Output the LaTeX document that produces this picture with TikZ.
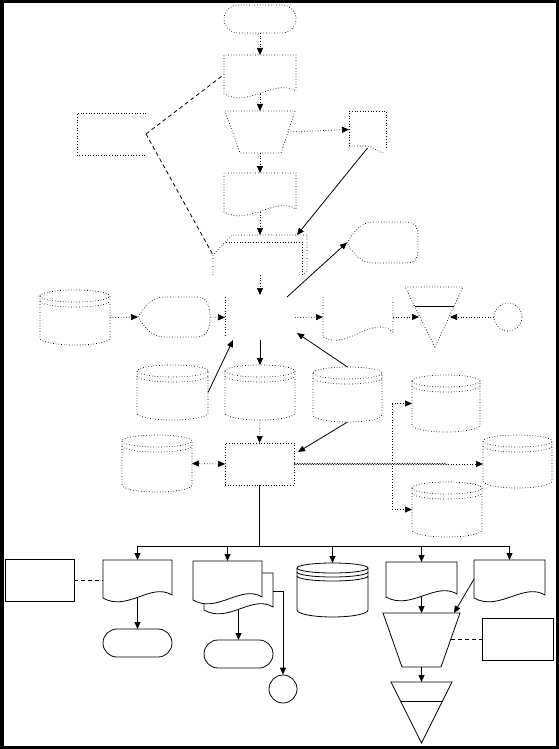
\documentclass[tikz,border=0pt]{standalone}
\usetikzlibrary{arrows.meta,shapes.misc,calc,decorations.pathmorphing}
\newcommand\docp[5]{\draw[#1] (#2,#5) -- (#2,#3) -- (#4,#3) -- (#4,#5-3) .. controls ({#4-0.3*(#4-#2)},#5-16) and ({#2+0.35*(#4-#2)},#5+14) .. (#2,#5) -- cycle;}
\newcommand\diskd[5]{%
 \pgfmathsetmacro\rxx{(#4-#2)/2}%
 \draw[#1,fill=white] (#2,#3+6) -- (#2,#5-7) arc[start angle=180,end angle=0,x radius=\rxx,y radius=7] -- (#4,#3+6) arc[start angle=0,end angle=-180,x radius=\rxx,y radius=6] -- cycle;
 \draw[#1] (#2,#3+6) arc[start angle=180,end angle=0,x radius=\rxx,y radius=6];
 \draw[#1] (#2,#3+11) arc[start angle=180,end angle=0,x radius=\rxx,y radius=6];
}
\begin{document}
\begin{tikzpicture}[x=1pt,y=-1pt,
 dot/.style={line width=0.7pt, dash pattern=on 0.7pt off 2pt},
 sol/.style={line width=0.8pt},
 dsh/.style={line width=0.8pt, dash pattern=on 4pt off 3pt},
 conn/.style={-{Triangle[length=7pt,width=6pt]}},
 dconn/.style={{Triangle[length=7pt,width=6pt]}-{Triangle[length=7pt,width=6pt]}},
 inv/.style={draw=none, inner sep=0pt, outer sep=0pt, rectangle},
 term/.style={rounded rectangle, inner sep=0pt, outer sep=0pt},
]
\useasboundingbox (0,0) rectangle (559,749);
\draw[line width=3.5pt] (1.75,1.75) rectangle (557.25,747.25);

% ---------- upper (dotted) part ----------
\node[term,dot,draw,minimum width=72pt,minimum height=28pt] (start) at (260,19) {};
\node[inv,minimum width=72pt,minimum height=39pt] (docA) at (260,74.5) {};
\docp{dot}{224}{55}{296}{94}
\node[inv,minimum width=70pt,minimum height=42pt] (trapA) at (260,132) {};
\draw[dot] (225,111) -- (295,111) -- (281,153) -- (240,153) -- cycle;
\coordinate (trapAE) at (288,132);
\node[inv,minimum width=72pt,minimum height=39pt] (docB) at (260,192.5) {};
\docp{dot}{224}{173}{296}{212}
\node[inv,minimum width=94pt,minimum height=40pt] (card) at (260,255) {};
\draw[dot] (213,275) -- (213,255) -- (232,235) -- (307,235) -- (307,271) -- (303,275);
\draw[dot] (226,242) -- (302,242) -- (302,275);
\coordinate (cardc) at (213,255);
\node[inv,minimum width=70pt,minimum height=45pt] (centre) at (260,317.5) {};
\draw[dot] (225,297) -- (225,335);

% annotation
\node[inv,minimum width=69pt,minimum height=42pt] (note1) at (111.5,134) {};
\draw[dot] (146,113) -- (77,113) -- (77,155) -- (146,155);
\draw[dsh] (note1.east) -- (docA.west);
\draw[dsh] (note1.east) -- (cardc);

% off-page like shape
\node[inv,minimum width=37pt,minimum height=37pt] (offp) at (367.5,129.5) {};
\draw[dot] (349,146) -- (349,111) -- (386,111) -- (386,148);
\draw[dot] (349,146) -- (366,146) .. controls (374,146) and (378,153) .. (384,153);

% displays
\node[inv,minimum width=71pt,minimum height=41pt] (disp2) at (382.5,242.5) {};
\draw[dot] (347,243) .. controls (354,231) and (362,222) .. (373,222) -- (405,222) .. controls (416,222) and (418,228) .. (418,236) -- (418,250) .. controls (418,258) and (416,263) .. (405,263) -- (373,263) .. controls (362,263) and (354,255) .. (347,243);
\node[inv,minimum width=72pt,minimum height=40pt] (disp1) at (174,317) {};
\draw[dot] (138,317) .. controls (145,306) and (152,297) .. (164,297) -- (197,297) .. controls (209,297) and (210,309) .. (210,317) .. controls (210,325) and (209,337) .. (197,337) -- (164,337) .. controls (152,337) and (145,328) .. (138,317);

% disk left
\node[inv,minimum width=70pt,minimum height=55pt] (diskL) at (75,317.5) {};
\diskd{dot}{40}{290}{110}{345}

% right document (open top)
\node[inv,minimum width=70pt,minimum height=40pt] (docR) at (358,317) {};
\draw[dot] (323,297) -- (323,337) .. controls (347.5,351) and (372,314) .. (393,332) -- (393,297);

% offline storage triangle
\draw[dot] (405,287) -- (463,287) -- (435,347) -- cycle;
\draw[sol] (415,306) -- (454,306);
\coordinate (triL) at (419,317);
\coordinate (triR) at (450,317);
\node[circle,draw,dot,minimum size=28pt,inner sep=0pt] (conn) at (508,317) {};

% cylinders row
\node[inv,minimum width=71pt,minimum height=55pt] (cylL) at (172.5,392.5) {};
\diskd{dot}{137}{365}{208}{420}
\node[inv,minimum width=70pt,minimum height=55pt] (cylM) at (260,392.5) {};
\diskd{dot}{225}{365}{295}{420}
\node[inv,minimum width=69pt,minimum height=55pt] (cylR) at (347.5,394.5) {};
\diskd{dot}{313}{367}{382}{422}
\node[inv,minimum width=68pt,minimum height=57pt] (cylUR) at (446,403.5) {};
\diskd{dot}{412}{375}{480}{432}
\node[inv,minimum width=70pt,minimum height=57pt] (cylFL) at (157,463.5) {};
\diskd{dot}{122}{435}{192}{492}
\node[inv,minimum width=69pt,minimum height=53pt] (cylE) at (517.5,461.5) {};
\diskd{dot}{483}{435}{552}{488}
\node[inv,minimum width=70pt,minimum height=55pt] (cylLR) at (447,509.5) {};
\diskd{dot}{412}{482}{482}{537}

\node[draw,dot,minimum width=69pt,minimum height=42pt,inner sep=0pt,outer sep=0pt] (box) at (259.5,464) {};

% upper connectors
\draw[dot,conn] (start.south) -- (docA.north);
\draw[dot,conn] (docA.south) -- (trapA.north);
\draw[dot,conn] (trapA.south) -- (docB.north);
\draw[dot,conn] (docB.south) -- (card.north);
\draw[dot,conn] (card.south) -- (centre.north);
\draw[sol,conn] (centre.south) -- (cylM.north);
\draw[dot,conn] (cylM.south) -- (box.north);
\draw[dot,conn] (trapAE) -- (offp.west);
\draw[sol,conn] (offp.south) -- ($(card.north east)+(-10,0)$);
\draw[sol,conn] ($(centre.north east)+(-8,2)$) -- (disp2.west);
\draw[dot,conn] (diskL.east) -- (disp1.west);
\draw[dot,conn] (disp1.east) -- (centre.west);
\draw[dot,conn] (centre.east) -- (docR.west);
\draw[dot,conn] (docR.east) -- (triL);
\draw[dot,conn] (conn.west) -- (triR);
\draw[sol,conn] (cylL.east) -- ($(centre.south west)+(8,0)$);
\draw[sol,conn] (cylR.north) -- ($(centre.south east)+(2,-7)$);
\draw[sol,conn] (cylR.south) -- ($(box.north east)+(4,9)$);
\draw[dot,dconn] (cylFL.east) -- (box.west);
\coordinate (wv) at (448,464);
\draw[line width=0.45pt,decorate,decoration={snake,amplitude=0.7pt,segment length=2.5pt}] (box.east) -- (wv);
\draw[dot,conn] (wv) -- (wv -| cylE.west);
\coordinate (jn) at (392,464);
\draw[dot] (jn |- cylUR.west) -- (jn |- cylLR.west);
\draw[dot,conn] (jn |- cylUR.west) -- (cylUR.west);
\draw[dot,conn] (jn |- cylLR.west) -- (cylLR.west);

% ---------- lower (solid) part ----------
\node[draw,sol,minimum width=69pt,minimum height=42pt,inner sep=0pt] (note2) at (39.5,580) {};
\node[inv,minimum width=69pt,minimum height=38pt] (doc1) at (137.5,579) {};
\docp{sol,fill=white}{103}{560}{172}{598}
\node[inv,minimum width=69pt,minimum height=37pt] (mdocB) at (238.5,591.5) {};
\docp{sol,fill=white}{204}{573}{273}{610}
\node[inv,minimum width=69pt,minimum height=39pt] (mdocF) at (227.5,580.5) {};
\docp{sol,fill=white}{193}{561}{262}{600}
\node[inv,minimum width=71pt,minimum height=54pt] (disk) at (332.5,590) {};
\draw[sol,fill=white] (297,568) -- (297,610) arc[start angle=180,end angle=0,x radius=35.5,y radius=7] -- (368,568) arc[start angle=0,end angle=-180,x radius=35.5,y radius=5] -- cycle;
\draw[sol] (297,568) arc[start angle=180,end angle=0,x radius=35.5,y radius=5];
\draw[sol] (297,572) arc[start angle=180,end angle=0,x radius=35.5,y radius=5];
\draw[sol] (297,576) arc[start angle=180,end angle=0,x radius=35.5,y radius=5];
\node[inv,minimum width=71pt,minimum height=35pt] (doc3) at (421.5,579.5) {};
\docp{sol,fill=white}{386}{562}{457}{597}
\node[inv,minimum width=71pt,minimum height=38pt] (doc4) at (509.5,579) {};
\docp{sol,fill=white}{474}{560}{545}{598}
\node[inv,minimum width=77pt,minimum height=54pt] (trap) at (421.5,640) {};
\draw[sol] (383,613) -- (460,613) -- (441,667) -- (402,667) -- cycle;
\coordinate (trapE) at (451,639);
\node[draw,sol,minimum width=71pt,minimum height=42pt,inner sep=0pt] (note3) at (517.5,639) {};
\node[inv,minimum width=61pt,minimum height=61pt] (tri2) at (421.5,712.5) {};
\draw[sol] (391,682) -- (452,682) -- (421.5,743) -- cycle;
\draw[sol] (400.5,701) -- (442.5,701);
\node[term,sol,draw,minimum width=69pt,minimum height=28pt] (term1) at (137.5,643) {};
\node[term,sol,draw,minimum width=69pt,minimum height=28pt] (term2) at (238.5,654) {};
\node[circle,sol,draw,minimum size=28pt,inner sep=0pt] (circ) at (283,689) {};

% lower connectors
\coordinate (bus) at (259.5,546);
\draw[sol] (box.south) -- (bus);
\draw[sol] (doc1.north |- bus) -- (doc4.north |- bus);
\foreach \n in {doc1,mdocF,disk,doc3,doc4} \draw[sol,conn] (\n.north |- bus) -- (\n.north);
\draw[sol,conn] (doc1.south) -- (term1.north);
\draw[sol,conn] (mdocB.south) -- (term2.north);
\draw[sol,conn] (mdocB.east) -| (circ.north);
\draw[dsh] (note2.east) -- (note2.east -| doc1.west);
\draw[sol,conn] (doc3.south) -- (trap.north);
\draw[sol,conn] (doc4.west) -- ($(trap.north east)+(-6,0)$);
\draw[dsh] (trapE) -- (note3.west);
\draw[sol,conn] (trap.south) -- (tri2.north);
\end{tikzpicture}
\end{document}
